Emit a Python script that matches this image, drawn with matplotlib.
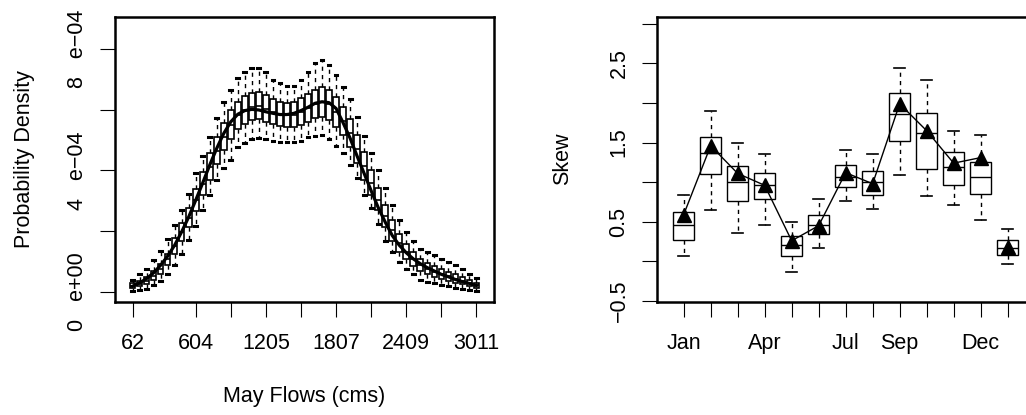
import numpy as np
import matplotlib
matplotlib.use("Agg")
import matplotlib.pyplot as plt

plt.rcParams['font.family'] = ['Liberation Sans', 'DejaVu Sans']

###### left panel: simulated May flow densities (units of 1e-04) ######
flow_idx = list(range(1, 51))
flow_ticks = [1, 10, 15, 20, 25, 30, 35, 40, 45, 50]
flow_labels = ['62', '604', '', '1205', '', '1807', '', '2409', '', '3011']

dens_hi = [0.41, 0.58, 0.77, 1.04, 1.35, 1.73, 2.20, 2.69, 3.24, 3.90,
           4.48, 5.11, 5.71, 6.26, 6.65, 7.03, 7.25, 7.36, 7.36, 7.25,
           6.98, 6.87, 6.78, 6.78, 6.98, 7.25, 7.53, 7.64, 7.47, 7.14,
           6.76, 6.34, 5.77, 5.13, 4.58, 4.01, 3.41, 2.86, 2.36, 1.98,
           1.68, 1.43, 1.32, 1.21, 1.10, 0.99, 0.88, 0.74, 0.60, 0.47]
dens_q3 = [0.30, 0.36, 0.50, 0.69, 0.93, 1.26, 1.79, 2.28, 2.78, 3.39,
           3.96, 4.56, 5.11, 5.55, 5.99, 6.26, 6.46, 6.56, 6.59, 6.48,
           6.34, 6.26, 6.23, 6.24, 6.37, 6.51, 6.65, 6.74, 6.65, 6.41,
           6.10, 5.68, 5.17, 4.62, 4.01, 3.41, 2.86, 2.36, 1.92, 1.59,
           1.32, 1.10, 0.96, 0.85, 0.74, 0.65, 0.58, 0.50, 0.41, 0.30]
dens_med = [0.20, 0.26, 0.36, 0.54, 0.76, 1.07, 1.52, 1.97, 2.45, 3.02,
            3.57, 4.12, 4.65, 5.11, 5.51, 5.81, 5.99, 6.10, 6.12, 6.03,
            5.92, 5.86, 5.82, 5.82, 5.92, 6.04, 6.19, 6.26, 6.18, 5.92,
            5.64, 5.22, 4.69, 4.14, 3.59, 3.04, 2.50, 2.03, 1.62, 1.33,
            1.09, 0.90, 0.77, 0.67, 0.58, 0.51, 0.44, 0.37, 0.30, 0.22]
dens_q1 = [0.12, 0.19, 0.25, 0.41, 0.60, 0.88, 1.26, 1.68, 2.14, 2.67,
           3.19, 3.68, 4.21, 4.67, 5.02, 5.35, 5.53, 5.66, 5.68, 5.60,
           5.53, 5.46, 5.42, 5.42, 5.50, 5.60, 5.71, 5.75, 5.66, 5.44,
           5.17, 4.78, 4.23, 3.68, 3.19, 2.69, 2.14, 1.68, 1.32, 1.07,
           0.85, 0.69, 0.58, 0.50, 0.43, 0.36, 0.30, 0.25, 0.19, 0.14]
dens_lo = [0.03, 0.08, 0.11, 0.22, 0.36, 0.60, 0.88, 1.26, 1.70, 2.17,
           2.69, 3.19, 3.68, 4.07, 4.36, 4.78, 4.91, 5.05, 5.08, 5.02,
           4.98, 4.95, 4.95, 4.95, 4.98, 5.09, 5.14, 5.17, 5.05, 4.81,
           4.56, 4.18, 3.74, 3.19, 2.75, 2.23, 1.68, 1.32, 0.99, 0.77,
           0.58, 0.41, 0.33, 0.28, 0.22, 0.19, 0.14, 0.11, 0.08, 0.03]
dens_obs = [0.19, 0.30, 0.44, 0.63, 0.88, 1.18, 1.54, 1.98, 2.47, 3.02,
            3.59, 4.18, 4.73, 5.22, 5.60, 5.85, 5.97, 6.01, 5.99, 5.93,
            5.88, 5.84, 5.84, 5.88, 5.97, 6.08, 6.21, 6.26, 6.23, 6.04,
            5.57, 5.06, 4.47, 3.90, 3.33, 2.78, 2.30, 1.86, 1.54, 1.29,
            1.09, 0.93, 0.80, 0.69, 0.58, 0.50, 0.41, 0.34, 0.28, 0.21]

###### right panel: monthly skew ######
months = ['Jan', 'Feb', 'Mar', 'Apr', 'May', 'Jun', 'Jul', 'Aug', 'Sep', 'Oct', 'Nov', 'Dec', 'Ann']
month_labels = ['Jan', '', '', 'Apr', '', '', 'Jul', '', 'Sep', '', '', 'Dec', '']
skew_hi = [0.84, 1.90, 1.49, 1.36, 0.50, 0.79, 1.40, 1.35, 2.44, 2.29, 1.65, 1.60, 0.41]
skew_q3 = [0.62, 1.57, 1.20, 1.11, 0.32, 0.58, 1.22, 1.14, 2.12, 1.87, 1.38, 1.25, 0.27]
skew_med = [0.46, 1.37, 1.00, 0.97, 0.21, 0.46, 1.07, 1.00, 1.86, 1.62, 1.19, 1.07, 0.17]
skew_q1 = [0.27, 1.10, 0.76, 0.79, 0.07, 0.35, 0.94, 0.84, 1.52, 1.17, 0.97, 0.85, 0.08]
skew_lo = [0.07, 0.65, 0.36, 0.46, -0.14, 0.17, 0.76, 0.66, 1.09, 0.82, 0.71, 0.52, -0.04]
skew_obs = [0.59, 1.46, 1.11, 0.96, 0.26, 0.45, 1.12, 0.98, 1.99, 1.65, 1.24, 1.31, 0.18]


def mkstats(lo, q1, med, q3, hi, scale=1.0):
    out = []
    for a, b, c, d, e in zip(lo, q1, med, q3, hi):
        out.append(dict(whislo=a*scale, q1=b*scale, med=c*scale, q3=d*scale,
                        whishi=e*scale, fliers=[]))
    return out


def rbox(ax, stats, pos, boxlw=1.0, caplw=1.2):
    ax.bxp(stats, positions=pos, widths=0.8, showfliers=False, patch_artist=True,
           boxprops=dict(facecolor='white', edgecolor='black', linewidth=boxlw),
           medianprops=dict(color='black', linewidth=boxlw),
           whiskerprops=dict(color='black', linewidth=1, linestyle=(0, (3, 3))),
           capprops=dict(color='black', linewidth=caplw))


def rstyle(ax):
    for sp in ax.spines.values():
        sp.set_linewidth(1.8)
    ax.tick_params(direction='out', length=10.5, width=0.8, labelsize=15.5)
    ax.tick_params(axis='x', pad=12)
    ax.tick_params(axis='y', pad=9)


fig = plt.figure(figsize=(10.26, 4.15), dpi=100)
W, H = 1026.0, 415.0
ax1 = fig.add_axes([115/W, 113/H, 379/W, 285/H])
ax2 = fig.add_axes([656.7/W, 113.3/H, 379/W, 285/H])

# left
rbox(ax1, mkstats(dens_lo, dens_q1, dens_med, dens_q3, dens_hi, 1e-4), flow_idx,
     boxlw=1.2, caplw=2.2)
ax1.plot(flow_idx, np.array(dens_obs)*1e-4, color='black', lw=2.3)
ax1.set_xlim(-1.5, 52.5)
ax1.set_ylim(-0.33e-4, 9.05e-4)
ax1.set_xticks(flow_ticks)
ax1.set_xticklabels(flow_labels)
ax1.set_yticks([0, 2e-4, 4e-4, 6e-4, 8e-4])
ax1.set_yticklabels(['0   e+00', '', '4   e\u221204', '', '8   e\u221204'],
                    rotation=90, va='center')
rstyle(ax1)
ax1.set_xlabel('May Flows (cms)', fontsize=15.5, va='center')
ax1.xaxis.set_label_coords(0.5, -0.333)
ax1.set_ylabel('Probability Density', fontsize=15.5, va='center')
ax1.yaxis.set_label_coords(-0.24, 0.5)

# right
mpos = list(range(1, 14))
rbox(ax2, mkstats(skew_lo, skew_q1, skew_med, skew_q3, skew_hi), mpos)
ax2.plot(mpos[:12], skew_obs[:12], color='black', lw=1, marker='^', ms=10.5)
ax2.plot(mpos[12:], skew_obs[12:], color='black', lw=0, marker='^', ms=10.5)
ax2.set_xlim(0, 14.04)
ax2.set_ylim(-0.51, 3.09)
ax2.set_xticks(mpos)
ax2.set_xticklabels(month_labels)
ax2.set_yticks([-0.5, 0, 0.5, 1, 1.5, 2, 2.5, 3])
ax2.set_yticklabels(['\u22120.5', '', '0.5', '', '1.5', '', '2.5', ''],
                    rotation=90, va='center')
rstyle(ax2)
ax2.set_ylabel('Skew', fontsize=15.5, va='center')
ax2.yaxis.set_label_coords(-0.248, 0.5)

fig.savefig('out.png', dpi=100)
